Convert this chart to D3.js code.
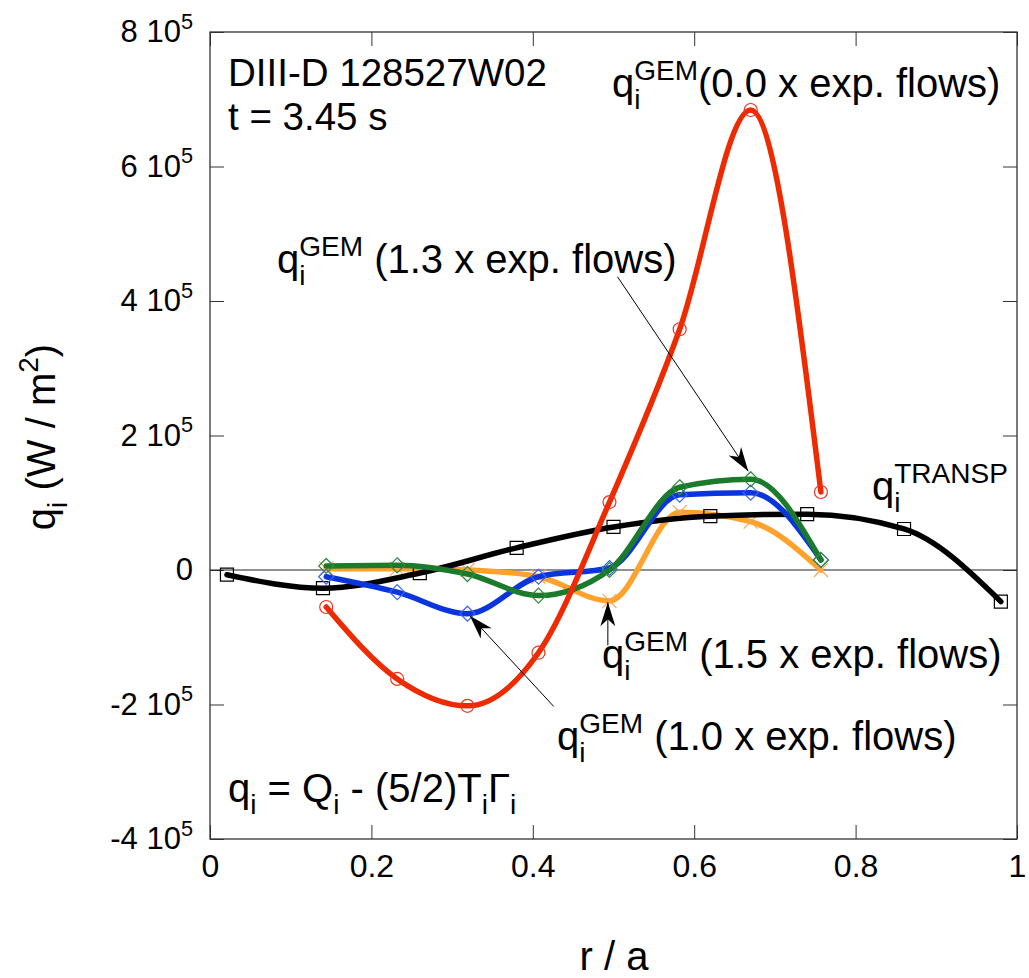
<!DOCTYPE html>
<html>
<head>
<meta charset="utf-8">
<script src="https://cdn.jsdelivr.net/npm/d3@7"></script>
<style>
  body { margin: 0; background: #fff; }
  text { font-family: "Liberation Sans", Arial, Helvetica, sans-serif; fill: #000; white-space: pre; }
</style>
</head>
<body>
<div id="chart"></div>
<script>
// r/a grid of the TRANSP profile and its heat flux (W/m^2)
const rTransp = [0.021, 0.14, 0.26, 0.38, 0.50, 0.62, 0.74, 0.86, 0.98];
const qTransp = [-0.07e5, -0.27e5, -0.045e5, 0.33e5, 0.64e5, 0.80e5, 0.83e5, 0.61e5, -0.47e5];

// GEM radial points and fluxes for each flow multiplier
const rGem = [0.144, 0.232, 0.319, 0.407, 0.495, 0.582, 0.670, 0.757];
const qGem00 = [-0.55e5, -1.62e5, -2.02e5, -1.23e5, 1.01e5, 3.58e5, 6.84e5, 1.16e5];
const qGem10 = [-0.10e5, -0.33e5, -0.65e5, -0.10e5, 0.03e5, 1.12e5, 1.15e5, 0.15e5];
const qGem13 = [0.06e5, 0.07e5, -0.06e5, -0.38e5, 0.0, 1.23e5, 1.35e5, 0.15e5];
const qGem15 = [0.02e5, 0.02e5, 0.0, -0.10e5, -0.46e5, 0.86e5, 0.72e5, 0.0];

const xTicks = [0, 0.2, 0.4, 0.6, 0.8, 1];
const yTicks = [-4e5, -2e5, 0, 2e5, 4e5, 6e5, 8e5];

const width = 1029, height = 978;
const margin = { left: 210, top: 32, right: 12, bottom: 139 };

const svg = d3.select("#chart").append("svg")
    .attr("width", width)
    .attr("height", height)
    .style("background-color", "white");

const x = d3.scaleLinear().domain([0, 1]).range([margin.left, width - margin.right]);
const y = d3.scaleLinear().domain([-4e5, 8e5]).range([height - margin.bottom, margin.top]);

// text with sub/superscripts, built piece by piece
function rich(parent, segs, size) {
    const g = parent.append("g");
    let cx = 0, keep = 0;
    segs.forEach(s => {
        const str = s[0], kind = s[1], stack = s[2];
        const fs = kind ? size * 0.7 : size;
        const dy = kind === "sub" ? size * 0.3 : kind === "sup" ? -size * 0.42 : 0;
        const t = g.append("text")
            .attr("x", cx).attr("y", dy)
            .attr("font-size", fs)
            .attr("xml:space", "preserve")
            .text(str);
        const w = t.node().getComputedTextLength();
        if (stack) { keep = cx + w; }
        else { cx = Math.max(cx + w, keep); keep = 0; }
    });
    g.node().__w = cx;
    return g;
}

function label(segs, px, py, size, anchor) {
    const g = rich(svg, segs, size);
    let dx = 0;
    if (anchor === "end") dx = -g.node().__w;
    if (anchor === "middle") dx = -g.node().__w / 2;
    g.attr("transform", "translate(" + (px + dx) + "," + py + ")");
    return g;
}

// axes, ticks pointing inward on all four sides
const tickLen = 14;
svg.append("g")
    .attr("transform", "translate(0," + y(-4e5) + ")")
    .call(d3.axisBottom(x).tickValues(xTicks).tickSizeInner(-tickLen).tickSizeOuter(0)
        .tickFormat(d => d === 0 || d === 1 ? d3.format("d")(d) : d3.format(".1f")(d)))
    .call(g => g.select(".domain").remove())
    .call(g => g.selectAll(".tick line").attr("stroke", "#333"))
    .call(g => g.selectAll(".tick text").attr("font-size", 32).attr("dy", 0).attr("y", 38)
        .attr("font-family", "Liberation Sans, Arial, sans-serif").attr("fill", "#000"));

svg.append("g")
    .attr("transform", "translate(0," + y(8e5) + ")")
    .call(d3.axisTop(x).tickValues(xTicks).tickSizeInner(-tickLen).tickSizeOuter(0).tickFormat(""))
    .call(g => g.select(".domain").remove())
    .call(g => g.selectAll(".tick line").attr("stroke", "#333"));

svg.append("g")
    .attr("transform", "translate(" + x(0) + ",0)")
    .call(d3.axisLeft(y).tickValues(yTicks).tickSizeInner(-tickLen).tickSizeOuter(0).tickFormat(""))
    .call(g => g.select(".domain").remove())
    .call(g => g.selectAll(".tick line").attr("stroke", "#333"));

svg.append("g")
    .attr("transform", "translate(" + x(1) + ",0)")
    .call(d3.axisRight(y).tickValues(yTicks).tickSizeInner(-tickLen).tickSizeOuter(0).tickFormat(""))
    .call(g => g.select(".domain").remove())
    .call(g => g.selectAll(".tick line").attr("stroke", "#333"));

// y tick labels like "8 10^5"
yTicks.forEach(v => {
    const segs = v === 0 ? [["0"]] : [[(v / 1e5) + " 10"], ["5", "sup"]];
    label(segs, 193, y(v) + 10, 31, "end");
});

// frame
svg.append("rect")
    .attr("x", x(0)).attr("y", y(8e5))
    .attr("width", x(1) - x(0)).attr("height", y(-4e5) - y(8e5))
    .attr("fill", "none").attr("stroke", "#333").attr("stroke-width", 1.3);

// zero line
svg.append("line")
    .attr("x1", x(0)).attr("x2", x(1))
    .attr("y1", y(0)).attr("y2", y(0))
    .attr("stroke", "#222").attr("stroke-width", 1.1);

const line = d3.line()
    .x(d => x(d[0]))
    .y(d => y(d[1]))
    .curve(d3.curveMonotoneX);

const series = [
    { r: rGem, q: qGem15, color: "#ffa12b", mcolor: "#ffa64d", marker: "cross" },
    { r: rTransp, q: qTransp, color: "#000000", mcolor: "#000000", marker: "square" },
    { r: rGem, q: qGem10, color: "#0a35dd", mcolor: "#3a66ee", marker: "diamond" },
    { r: rGem, q: qGem13, color: "#1b7a2c", mcolor: "#2e8b3e", marker: "diamond" },
    { r: rGem, q: qGem00, color: "#ee2a00", mcolor: "#ee3322", marker: "circle" }
];

series.forEach(s => {
    const pts = s.r.map((r, i) => [r, s.q[i]]);
    svg.append("path")
        .datum(pts)
        .attr("d", line)
        .attr("fill", "none")
        .attr("stroke", s.color)
        .attr("stroke-width", 5.5)
        .attr("stroke-linejoin", "round")
        .attr("stroke-linecap", "round");

    svg.append("g").selectAll("path")
        .data(pts)
        .enter()
            .append("path")
            .attr("transform", d => "translate(" + x(d[0]) + "," + y(d[1]) + ")")
            .attr("fill", "none")
            .attr("stroke", s.mcolor)
            .attr("stroke-width", 1.2)
            .attr("d", () => {
                if (s.marker === "square") return "M-6.5,-6.5H6.5V6.5H-6.5Z";
                if (s.marker === "diamond") return "M0,-7.5L7.5,0L0,7.5L-7.5,0Z";
                if (s.marker === "cross") return "M-7,-7L7,7M-7,7L7,-7";
                return "M-6.5,0A6.5,6.5 0 1,0 6.5,0A6.5,6.5 0 1,0 -6.5,0Z";
            });
});

// arrows pointing from labels to curves
function arrow(x1, y1, x2, y2) {
    const ax = x(x1), ay = y(y1), bx = x(x2), by = y(y2);
    const ang = Math.atan2(by - ay, bx - ax) * 180 / Math.PI;
    svg.append("line")
        .attr("x1", ax).attr("y1", ay).attr("x2", bx).attr("y2", by)
        .attr("stroke", "#000").attr("stroke-width", 1);
    svg.append("path")
        .attr("transform", "translate(" + bx + "," + by + ") rotate(" + ang + ")")
        .attr("d", "M0,0L-24,-7.5L-17,0L-24,7.5Z")
        .attr("fill", "#000");
}
arrow(0.505, 4.36e5, 0.667, 1.47e5);
arrow(0.493, -1.12e5, 0.493, -0.48e5);
arrow(0.426, -2.03e5, 0.322, -0.68e5);

// annotations
const fs = 40;
label([["DIII-D 128527W02"]], 228, 86, 38.5);
label([["t = 3.45 s"]], 228, 130, 38.5);

label([["q"], ["i", "sub", true], ["GEM", "sup"], ["(0.0 x exp. flows)"]], 612, 97, fs);
label([["q"], ["i", "sub", true], ["GEM", "sup"], [" (1.3 x exp. flows)"]], 277, 273, fs);
label([["q"], ["i", "sub", true], ["GEM", "sup"], [" (1.5 x exp. flows)"]], 602, 668, fs);
label([["q"], ["i", "sub", true], ["GEM", "sup"], [" (1.0 x exp. flows)"]], 557, 750, fs);
label([["q"], ["i", "sub", true], ["TRANSP", "sup"]], 872, 500, fs);
label([["q"], ["i", "sub"], [" = Q"], ["i", "sub"], [" - (5/2)T"], ["i", "sub"], ["\u0393"], ["i", "sub"]], 228, 802, fs);

// axis titles
label([["r / a"]], 614, 970, fs, "middle");
const yt = rich(svg, [["q"], ["i", "sub"], [" (W / m"], ["2", "sup"], [")"]], fs);
yt.attr("transform", "translate(55," + (437 + yt.node().__w / 2) + ") rotate(-90)");
</script>
</body>
</html>
